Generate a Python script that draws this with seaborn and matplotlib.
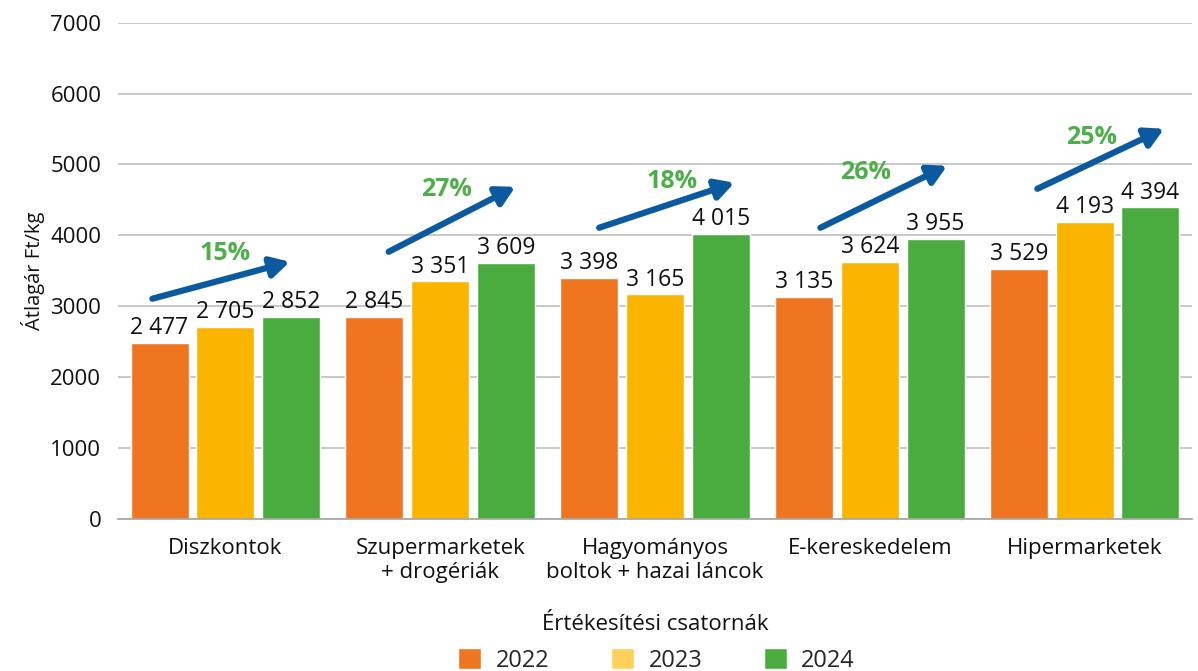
import pandas as pd
import matplotlib
matplotlib.use('Agg')
import matplotlib.pyplot as plt
from matplotlib.patches import Patch
import seaborn as sns

# chart data
categories = ["Diszkontok", "Szupermarketek\n+ drogériák", "Hagyományos\nboltok + hazai láncok",
              "E-kereskedelem", "Hipermarketek"]
years = ["2022", "2023", "2024"]
values_2022 = [2477, 2845, 3398, 3135, 3529]
values_2023 = [2705, 3351, 3165, 3624, 4193]
values_2024 = [2852, 3609, 4015, 3955, 4394]
growth_labels = ["15%", "27%", "18%", "26%", "25%"]
arrow_start = [3105, 3768, 4107, 4107, 4657]
arrow_end = [3627, 4685, 4742, 4982, 5504]
label_y = [3740, 4640, 4760, 4890, 5380]

# arrow / label offsets from the category centre
arrow_x0 = [-0.34, -0.24, -0.26, -0.23, -0.22]
arrow_x1 = [0.30, 0.35, 0.37, 0.36, 0.37]
label_dx = [0.0, 0.03, 0.08, -0.02, 0.03]

bar_colors = ["#F07520", "#FBB500", "#4AAC3E"]
legend_colors = ["#F07520", "#FFD15A", "#4AAC3E"]

df = pd.DataFrame({
    "csatorna": categories * 3,
    "ev": [y for y in years for _ in categories],
    "ar": values_2022 + values_2023 + values_2024,
})

sns.set_theme(style="white")
plt.rcParams['font.family'] = ['Open Sans', 'DejaVu Sans']

fig, ax = plt.subplots(figsize=(11.98, 6.71), dpi=100)
fig.subplots_adjust(left=0.0985, right=0.995, top=0.966, bottom=0.227)

sns.barplot(data=df, x="csatorna", y="ar", hue="ev", palette=bar_colors, width=0.92, gap=0.12,
            saturation=1, legend=False, ax=ax)

for cont in ax.containers:
    ax.bar_label(cont, labels=[f"{int(v):,}".replace(",", " ") for v in cont.datavalues],
                 padding=2, fontsize=16.5, color="#111111")

# growth arrows
for i, pct in enumerate(growth_labels):
    ax.annotate("", xy=(i + arrow_x1[i], arrow_end[i]), xytext=(i + arrow_x0[i], arrow_start[i]),
                arrowprops=dict(arrowstyle="-|>,head_length=1.0,head_width=0.55", lw=4.5,
                                mutation_scale=11, color="#0B5AA0", shrinkA=0, shrinkB=0))
    ax.text(i + label_dx[i], label_y[i], pct, ha="center", va="center", fontsize=18,
            fontweight="bold", color="#4CAF48")

ax.set_ylim(0, 7000)
ax.set_xlim(-0.5, 4.5)
ax.set_yticks(range(0, 7001, 1000))
ax.yaxis.grid(True, color="#BFBFBF", lw=1.2)
ax.set_axisbelow(True)
for s in ["top", "right", "left"]:
    ax.spines[s].set_visible(False)
ax.spines["bottom"].set_color("#A6A6A6")
ax.tick_params(axis="y", length=0, labelsize=16, pad=12, colors="#111111")
ax.tick_params(axis="x", length=0, labelsize=16, pad=14, colors="#111111")
ax.set_ylabel("Átlagár Ft/kg", fontsize=14.5, labelpad=4, color="#111111")
ax.set_xlabel("Értékesítési csatornák", fontsize=16, labelpad=22, color="#111111")

handles = [Patch(facecolor=c, label=y) for c, y in zip(legend_colors, years)]
fig.legend(handles=handles, loc="lower center", bbox_to_anchor=(0.548, -0.034), ncol=3,
           frameon=False, fontsize=17, handlelength=1.0, handleheight=1.0, handletextpad=0.6,
           columnspacing=2.6)

plt.savefig("out.png", dpi=100)
